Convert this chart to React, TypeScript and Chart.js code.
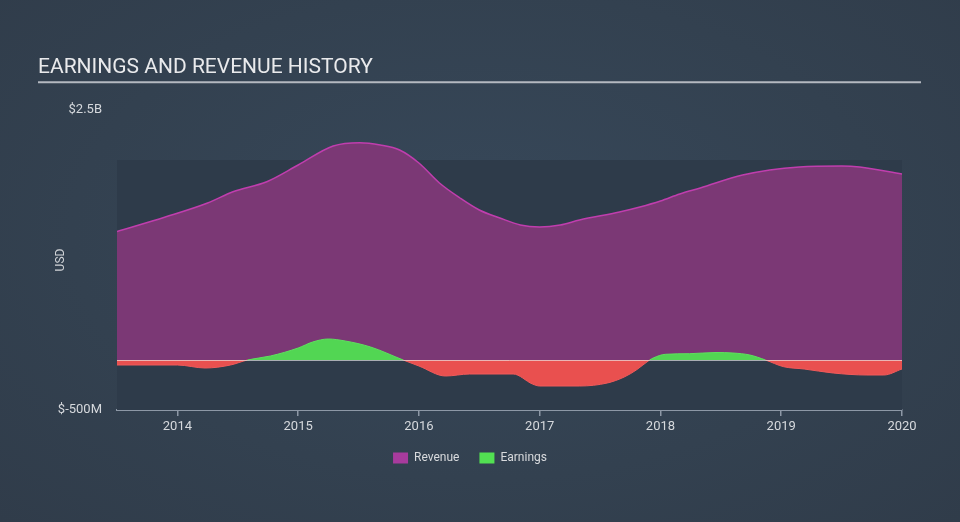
import React, { useEffect, useRef } from "react";
import { Chart, registerables } from "chart.js";

Chart.register(...registerables);

const titleText = "EARNINGS AND REVENUE HISTORY";
const seriesNames = ["Revenue", "Earnings"];

const revenueDates = [
  2013.5, 2013.9, 2014.25, 2014.46, 2014.74, 2015.0, 2015.29, 2015.51, 2015.68, 2015.84,
  2016.0, 2016.17, 2016.34, 2016.5, 2016.67, 2016.84, 2017.0, 2017.17, 2017.33, 2017.66,
  2017.83, 2018.0, 2018.16, 2018.33, 2018.68, 2019.15, 2019.5, 2019.65, 2020.0,
];
const revenueValues = [
  1285, 1430, 1570, 1683, 1783, 1950, 2140, 2173, 2150, 2100,
  1970, 1770, 1620, 1500, 1420, 1350, 1330, 1350, 1400, 1480,
  1530, 1590, 1660, 1720, 1850, 1930, 1940, 1930, 1860,
];

const earningsDates = [
  2013.5, 2014.0, 2014.23, 2014.44, 2014.58, 2014.77, 2015.0, 2015.12, 2015.25, 2015.39,
  2015.6, 2015.87, 2016.0, 2016.22, 2016.42, 2016.78, 2016.94, 2017.0, 2017.33, 2017.56,
  2017.7, 2017.8, 2017.91, 2017.94, 2018.04, 2018.24, 2018.46, 2018.6, 2018.74, 2018.87,
  2019.02, 2019.19, 2019.43, 2019.71, 2019.85, 2020.0,
];
const earningsValues = [
  -50, -50, -80, -50, 0, 40, 120, 180, 210, 190,
  130, 0, -60, -160, -140, -140, -240, -260, -260, -230,
  -170, -100, 0, 20, 57, 63, 75, 70, 50, 0,
  -67, -90, -130, -150, -150, -90,
];

const yearTicks = [2014, 2015, 2016, 2017, 2018, 2019, 2020];
const xMin = 2013.5;
const xMax = 2020.0;
const yTickValues = [-500, 2500];
const yTickLabels = ["$-500M", "$2.5B"];
const bandTopValue = 2000;

export default function App() {
  const canvasRef = useRef<HTMLCanvasElement | null>(null);

  useEffect(() => {
    document.body.style.margin = "0";
    const canvas = canvasRef.current;
    if (!canvas) return;

    const decor = {
      id: "decor",
      beforeDatasetsDraw(chart: any) {
        const { ctx, chartArea, scales } = chart;
        const y = scales.y;
        const top = y.getPixelForValue(bandTopValue);
        const bottom = y.getPixelForValue(y.min);
        ctx.save();
        ctx.fillStyle = "#2e3b4a";
        ctx.fillRect(chartArea.left, top, chartArea.right - chartArea.left, bottom - top);
        ctx.restore();
      },
      afterDatasetsDraw(chart: any) {
        const { ctx, chartArea, scales } = chart;
        const zy = Math.round(scales.y.getPixelForValue(0)) + 0.5;
        ctx.save();
        ctx.strokeStyle = "rgba(235,235,235,0.65)";
        ctx.lineWidth = 1;
        ctx.beginPath();
        ctx.moveTo(chartArea.left, zy);
        ctx.lineTo(chartArea.right, zy);
        ctx.stroke();
        ctx.restore();
      },
      afterDraw(chart: any) {
        const tb = chart.titleBlock;
        if (!tb) return;
        const { ctx } = chart;
        const lineY = tb.top + 55 + 25.2 + 2;
        ctx.save();
        ctx.strokeStyle = "#b4b9c0";
        ctx.lineWidth = 2;
        ctx.beginPath();
        ctx.moveTo(tb.left, lineY);
        ctx.lineTo(chart.width - 39, lineY);
        ctx.stroke();
        ctx.restore();
      },
    };

    const font = "Roboto";
    const chart = new Chart(canvas, {
      type: "line",
      data: {
        datasets: [
          {
            label: seriesNames[0],
            data: revenueDates.map((d, i) => ({ x: d, y: revenueValues[i] })),
            borderColor: "#c03eae",
            backgroundColor: "#a83b9d",
            borderWidth: 1.5,
            pointRadius: 0,
            cubicInterpolationMode: "monotone",
            fill: { target: "origin", above: "#7b3875", below: "#7b3875" },
            order: 1,
          },
          {
            label: seriesNames[1],
            data: earningsDates.map((d, i) => ({ x: d, y: earningsValues[i] })),
            borderColor: "#5ee05e",
            backgroundColor: "#52e052",
            borderWidth: 1,
            pointRadius: 0,
            cubicInterpolationMode: "monotone",
            segment: {
              borderColor: (c: any) =>
                (c.p0.parsed.y + c.p1.parsed.y) / 2 >= 0 ? "#5ee05e" : "#f05a5a",
            },
            fill: { target: { value: 0 }, above: "#52d653", below: "#e9504f" },
            order: 0,
          },
        ],
      },
      options: {
        responsive: false,
        animation: false,
        devicePixelRatio: 1,
        layout: { padding: { left: 38, right: 58, top: 0, bottom: 48 } },
        scales: {
          x: {
            type: "linear",
            min: xMin,
            max: xMax,
            afterBuildTicks: (scale: any) => {
              scale.ticks = yearTicks.map((v) => ({ value: v }));
            },
            afterFit: (scale: any) => {
              scale.height = 22;
            },
            ticks: {
              color: "#d6d9dd",
              font: { family: font, size: 13 },
              padding: 3,
              maxRotation: 0,
              callback: (v: any) => String(v),
            },
            grid: {
              drawOnChartArea: false,
              drawTicks: true,
              tickLength: 6,
              color: "#8d98a6",
              lineWidth: 1.5,
            },
            border: { display: true, color: "#8d98a6", width: 2 },
          },
          y: {
            type: "linear",
            min: yTickValues[0],
            max: yTickValues[1],
            afterBuildTicks: (scale: any) => {
              scale.ticks = yTickValues.map((v) => ({ value: v }));
            },
            afterFit: (scale: any) => {
              scale.width = 79;
            },
            ticks: {
              color: "#d6d9dd",
              font: { family: font, size: 13 },
              padding: 15,
              callback: (v: any) => yTickLabels[yTickValues.indexOf(Number(v))],
            },
            grid: { display: false, drawTicks: false },
            border: { display: false },
            title: {
              display: true,
              text: "USD",
              color: "#d0d3d7",
              font: { family: font, size: 12 },
              padding: { top: 16, bottom: 0 },
            },
          },
        },
        plugins: {
          title: {
            display: true,
            text: titleText,
            align: "start",
            color: "#e9eaec",
            font: { family: font, size: 21, weight: "normal" },
            padding: { top: 55, bottom: 29.8 },
          },
          legend: {
            display: true,
            position: "bottom",
            labels: {
              boxWidth: 15,
              boxHeight: 11,
              padding: 20,
              color: "#d8dadd",
              font: { family: font, size: 12 },
              sort: (a: any, b: any) => a.datasetIndex - b.datasetIndex,
              generateLabels: (c: any) =>
                Chart.defaults.plugins.legend.labels
                  .generateLabels(c)
                  .map((l: any) => ({ ...l, lineWidth: 0, strokeStyle: "rgba(0,0,0,0)" })),
            },
          },
          tooltip: { enabled: false },
        },
      },
      plugins: [decor],
    } as any);

    return () => chart.destroy();
  }, []);

  return (
    <div
      style={{
        width: 960,
        height: 522,
        position: "relative",
        background: "radial-gradient(ellipse at 50% 45%, #37485a 0%, #334150 60%, #303c4a 100%)",
      }}
    >
      <canvas ref={canvasRef} width={960} height={522} style={{ display: "block" }} />
    </div>
  );
}
